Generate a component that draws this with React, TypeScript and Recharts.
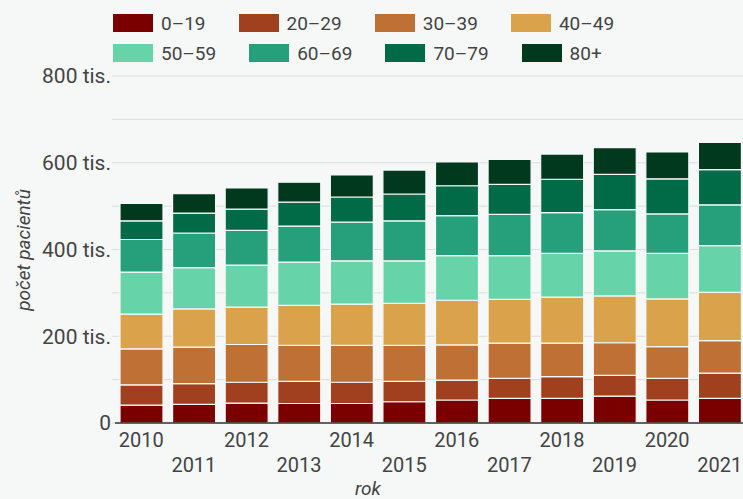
import React from 'react';
import { BarChart, Bar, XAxis, YAxis, CartesianGrid, Legend } from 'recharts';

const years = ['2010','2011','2012','2013','2014','2015','2016','2017','2018','2019','2020','2021'];
const age0_19 = [41, 43, 46, 45, 45, 49, 53, 57, 57, 62, 53, 57];
const age20_29 = [47, 48, 48, 51, 49, 47, 46, 46, 50, 48, 50, 58];
const age30_39 = [83, 84, 87, 83, 85, 83, 81, 81, 77, 75, 73, 75];
const age40_49 = [80, 88, 86, 92, 95, 97, 103, 101, 106, 108, 110, 111];
const age50_59 = [97, 95, 97, 100, 100, 98, 103, 101, 101, 104, 105, 108];
const age60_69 = [75, 80, 80, 83, 89, 92, 92, 95, 94, 95, 91, 94];
const age70_79 = [43, 46, 49, 55, 58, 62, 69, 69, 77, 81, 81, 81];
const age80 = [40, 45, 49, 46, 51, 55, 55, 58, 58, 62, 62, 63];
const yTicks = [0, 100, 200, 300, 400, 500, 600, 700, 800];

const seriesNames = ['0–19', '20–29', '30–39', '40–49', '50–59', '60–69', '70–79', '80+'];
const seriesValues = [age0_19, age20_29, age30_39, age40_49, age50_59, age60_69, age70_79, age80];
const colors = ['#7a0000', '#a0401e', '#bf7034', '#daa24b', '#66d4a8', '#25a07a', '#016b48', '#00391e'];

const data = years.map((y, i) => {
  const row: any = { year: y };
  seriesNames.forEach((n, k) => { row[n] = seriesValues[k][i]; });
  return row;
});

const FONT = 'Roboto, sans-serif';
const BG = '#f5f8f7';

const XTick = (props: any) => {
  const { x, y, payload, index } = props;
  return (
    <text x={x} y={y + (index % 2 === 0 ? 16 : 41)} textAnchor="middle" fill="#444" fontSize={20} fontFamily={FONT}>
      {payload.value}
    </text>
  );
};

const LegendContent = () => {
  const rows = [seriesNames.slice(0, 4), seriesNames.slice(4)];
  return (
    <div style={{ height: 66, paddingLeft: 113, fontFamily: FONT, fontSize: 19, color: '#444' }}>
      {rows.map((r, ri) => (
        <div key={ri} style={{ display: 'flex', alignItems: 'center', height: 30 }}>
          {r.map((n) => {
            const k = seriesNames.indexOf(n);
            return (
              <div key={n} style={{ display: 'flex', alignItems: 'center', marginRight: 33 }}>
                <div style={{ width: 40, height: 18, background: colors[k], marginRight: 8 }} />
                <span>{n}</span>
              </div>
            );
          })}
        </div>
      ))}
    </div>
  );
};

export default function App() {
  return (
    <div style={{ position: 'absolute', left: 0, top: 0, width: 743, height: 499, overflow: 'hidden', background: BG }}>
      <BarChart width={746} height={499} data={data} margin={{ top: 10, right: 0, left: 0, bottom: 16 }}>
        <Legend verticalAlign="top" align="left" content={<LegendContent />} wrapperStyle={{ left: 0, top: 8, width: 743, height: 66 }} />
        <CartesianGrid vertical={false} stroke="#dcdcdc" />
        <XAxis
          dataKey="year"
          height={60}
          tick={<XTick />}
          tickLine={false}
          interval={0}
          axisLine={{ stroke: '#333', strokeWidth: 1.5 }}
          label={{ value: 'rok', position: 'insideBottom', offset: 0, content: () => (
            <text x={368} y={495} textAnchor="middle" fill="#444" fontSize={19} fontStyle="italic" fontFamily={FONT}>rok</text>
          ) }}
        />
        <YAxis
          width={115}
          domain={[0, 800]}
          ticks={yTicks}
          interval={0}
          axisLine={false}
          tickLine={{ stroke: '#dcdcdc' }}
          tickSize={3}
          tickMargin={1}
          tick={{ fill: '#444', fontSize: 21, fontFamily: FONT }}
          tickFormatter={(v: number) => (v === 0 ? '0' : v % 200 === 0 ? `${v} tis.` : '')}
          label={{ value: 'počet pacientů', content: () => (
            <text x={30} y={250} transform="rotate(-90 30 250)" textAnchor="middle" fill="#444" fontSize={19} fontStyle="italic" fontFamily={FONT}>počet pacientů</text>
          ) }}
        />
        {seriesNames.map((n, k) => (
          <Bar key={n} dataKey={n} stackId="a" fill={colors[k]} stroke={BG} strokeWidth={1.2} barSize={43} isAnimationActive={false} />
        ))}
      </BarChart>
    </div>
  );
}
